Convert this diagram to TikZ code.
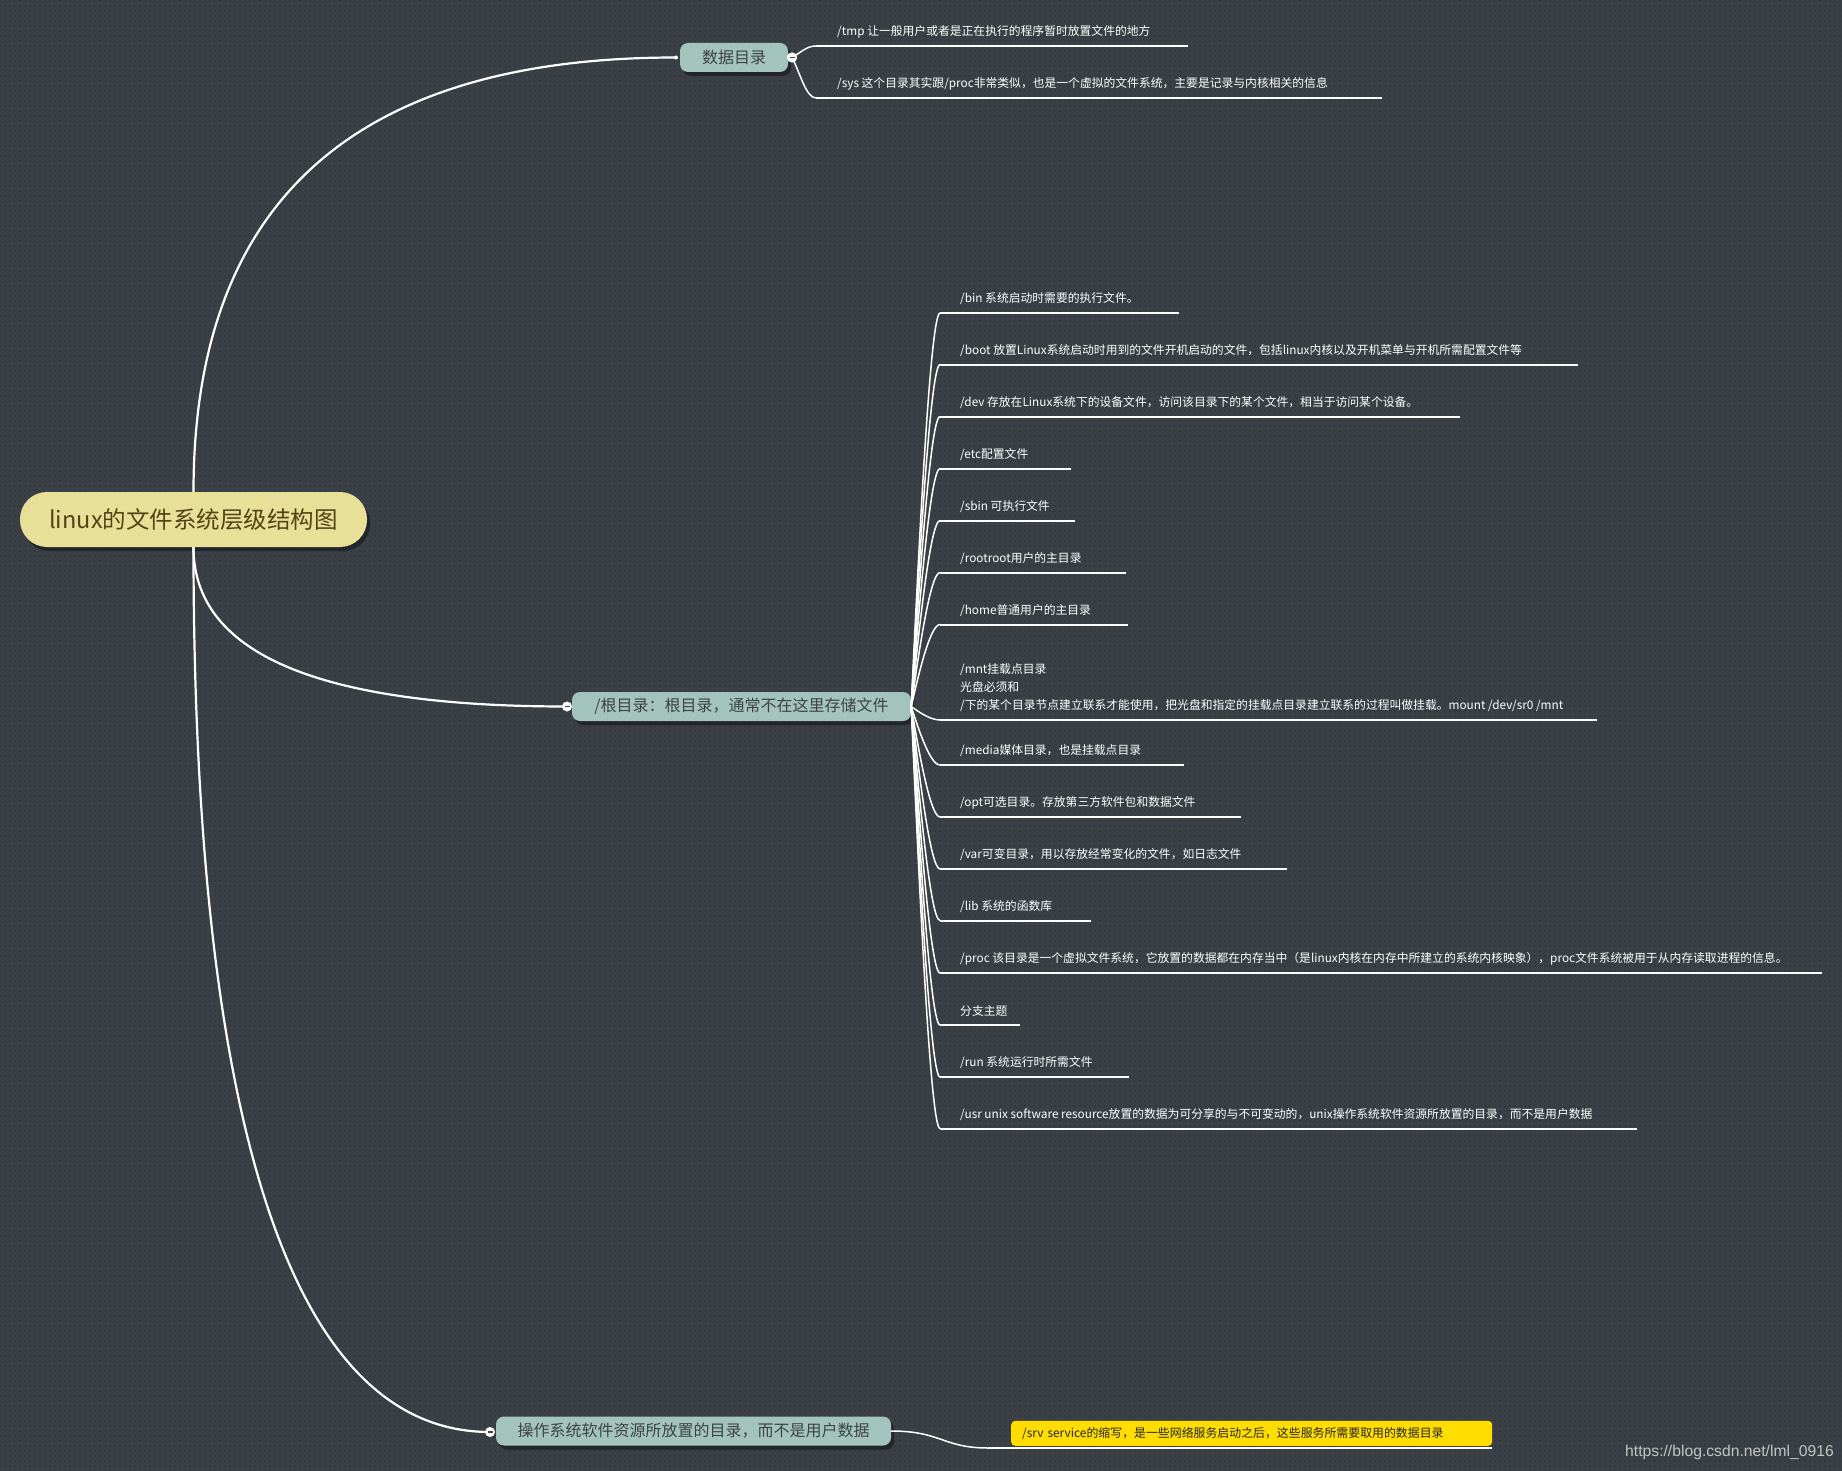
\documentclass[tikz,border=0pt]{standalone}
\usepackage{fontspec}
\setmainfont{Noto Sans CJK SC}
\newfontfamily\webfont{Liberation Sans}
\usepackage{tikz}
\usetikzlibrary{positioning, calc, shadows, patterns.meta}
\definecolor{cBack}{RGB}{58,64,69}
\definecolor{cDot}{RGB}{46,51,55}
\definecolor{cRoot}{RGB}{232,224,152}
\definecolor{cRootTxt}{RGB}{82,68,22}
\definecolor{cTopic}{RGB}{163,196,188}
\definecolor{cTopicTxt}{RGB}{62,66,68}
\definecolor{cShadow}{RGB}{34,38,42}
\definecolor{cMark}{RGB}{255,221,0}
\definecolor{cWater}{RGB}{196,196,196}
\tikzset{
	rootbox/.style={rectangle, rounded corners=27pt, fill=cRoot, text=cRootTxt, minimum width=347pt, minimum height=55pt, inner sep=0pt, font=\fontsize{23.5pt}{26pt}\selectfont, drop shadow={shadow xshift=3pt, shadow yshift=-4pt, fill=cShadow, opacity=1}},
	topic/.style={rectangle, rounded corners=8pt, fill=cTopic, text=cTopicTxt, minimum height=29pt, inner sep=0pt, font=\fontsize{16pt}{18pt}\selectfont, drop shadow={shadow xshift=3pt, shadow yshift=-4pt, fill=cShadow, opacity=1}},
	fold/.style={circle, fill=white, minimum size=10pt, inner sep=0pt, path picture={\draw[cTopicTxt, line width=1.2pt] ([xshift=2.5pt]path picture bounding box.west) -- ([xshift=-2.5pt]path picture bounding box.east);}},
	knot/.style={circle, fill=white, minimum size=4pt, inner sep=0pt},
	branch/.style={draw=white, line width=2.2pt},
	twig/.style={draw=white, line width=1.5pt},
	rule/.style={draw=white, line width=2pt},
	leaf/.style={anchor=south west, inner sep=0pt, align=left, text=white, font=\fontsize{11.8pt}{18pt}\selectfont},
	marked/.style={anchor=south west, rectangle, rounded corners=4pt, fill=cMark, text=black!85, minimum height=25pt, inner xsep=11pt, inner ysep=0pt, text width=459pt, align=left, font=\fontsize{11.9pt}{14pt}\selectfont},
}
\begin{document}
\begin{tikzpicture}[x=1pt, y=-1pt]
	\useasboundingbox (0,0) rectangle (1842,1471);
	\fill[cBack] (0,0) rectangle (1842,1471);
	\fill[pattern={Dots[distance=5pt, radius=0.8pt]}, pattern color=cDot] (0,0) rectangle (1842,1471);

	% topics
	\node[rootbox] (root) at (193.5,519.5) {linux的文件系统层级结构图};
	\node[topic, minimum width=108pt] (datadir) at (734,57.5) {数据目录};
	\node[topic, minimum width=339pt] (rootdir) at (741.5,706.5) {/根目录：根目录，通常不在这里存储文件};
	\node[topic, minimum width=395pt] (osdir) at (693.5,1431) {操作系统软件资源所放置的目录，而不是用户数据};

	\coordinate (dknot) at (676,57.5);
	\coordinate (rfold) at (567,706.5);
	\coordinate (ofold) at (490,1432);

	% main branches
	\draw[branch] (root.north) .. controls ($(root.north)!.667!(root.north |- dknot)$) and ($(dknot)!.667!(root.north |- dknot)$) .. (dknot);
	\draw[branch] (root.south) .. controls ($(root.south)!.667!(root.south |- rfold)$) and ($(rfold)!.667!(root.south |- rfold)$) .. (rfold);
	\draw[branch] (root.south) .. controls ($(root.south)!.6!(root.south |- ofold)$) and ($(ofold)!.72!(root.south |- ofold)$) .. (ofold);

	% data dir leaves
	\node[fold] (dfold) at (792,57.5) {};
	\foreach \i/\uy/\xr/\txt in {
		1/46/1188/{/tmp 让一般用户或者是正在执行的程序暂时放置文件的地方},
		2/98/1382/{/sys 这个目录其实跟/proc非常类似，也是一个虚拟的文件系统，主要是记录与内核相关的信息}}{
		\coordinate (d\i) at (816,\uy);
		\coordinate (de\i) at (\xr,\uy);
		\draw[twig] (dfold.center) .. controls ($(dfold.center)!.37!(dfold.center |- d\i) + (8,0)$) and ($(d\i) + (-10,0)$) .. (d\i);
		\draw[rule] (d\i) -- (de\i);
		\node[leaf] (dt\i) at ($(d\i) + (21,-8)$) {\txt};
	}
	\node[fold] at (dfold) {};
	\node[knot] at (dknot) {};

	% root dir leaves
	\foreach \i/\uy/\xr/\txt in {
		1/313/1179/{/bin 系统启动时需要的执行文件。},
		2/364.5/1578/{/boot 放置Linux系统启动时用到的文件开机启动的文件，包括linux内核以及开机菜单与开机所需配置文件等},
		3/416.5/1460/{/dev 存放在Linux系统下的设备文件，访问该目录下的某个文件，相当于访问某个设备。},
		4/468.5/1071/{/etc配置文件},
		5/520.5/1075/{/sbin 可执行文件},
		6/572.5/1126/{/rootroot用户的主目录},
		7/624.5/1128/{/home普通用户的主目录},
		8/720/1597/{/mnt挂载点目录\\光盘必须和\\/下的某个目录节点建立联系才能使用，把光盘和指定的挂载点目录建立联系的过程叫做挂载。mount /dev/sr0 /mnt},
		9/765/1184/{/media媒体目录，也是挂载点目录},
		10/817/1241/{/opt可选目录。存放第三方软件包和数据文件},
		11/869/1287/{/var可变目录，用以存放经常变化的文件，如日志文件},
		12/920.5/1091/{/lib 系统的函数库},
		13/973/1822/{/proc 该目录是一个虚拟文件系统，它放置的数据都在内存当中（是linux内核在内存中所建立的系统内核映象），proc文件系统被用于从内存读取进程的信息。},
		14/1025/1020/{分支主题},
		15/1077/1129/{/run 系统运行时所需文件},
		16/1128.5/1637/{/usr unix software resource放置的数据为可分享的与不可变动的，unix操作系统软件资源所放置的目录，而不是用户数据}}{
		\coordinate (u\i) at (940,\uy);
		\coordinate (ue\i) at (\xr,\uy);
		\draw[twig] (rootdir.east) .. controls ($(rootdir.east)!.37!(rootdir.east |- u\i) + (7,0)$) and ($(u\i) + (-10,0)$) .. (u\i);
		\draw[rule] (u\i) -- (ue\i);
		\node[leaf] (t\i) at ($(u\i) + (20,-8)$) {\txt};
	}
	\node[fold] at (rfold) {};

	% srv leaf
	\coordinate (s1) at (988,1448);
	\coordinate (se1) at (1492,1448);
	\draw[twig] (osdir.east) .. controls ($(osdir.east) + (50,0)$) and ($(s1) + (-45,0)$) .. (s1);
	\draw[rule] (s1) -- (se1);
	\node[marked] (srv) at (1011,1446) {/srv service的缩写，是一些网络服务启动之后，这些服务所需要取用的数据目录};
	\node[fold] at (ofold) {};

	\node[anchor=base east, inner sep=0pt, text=cWater, font=\webfont\fontsize{15.7pt}{17pt}\selectfont] (mark) at (1834,1456) {https://blog.csdn.net/lml\_0916};
\end{tikzpicture}
\end{document}
